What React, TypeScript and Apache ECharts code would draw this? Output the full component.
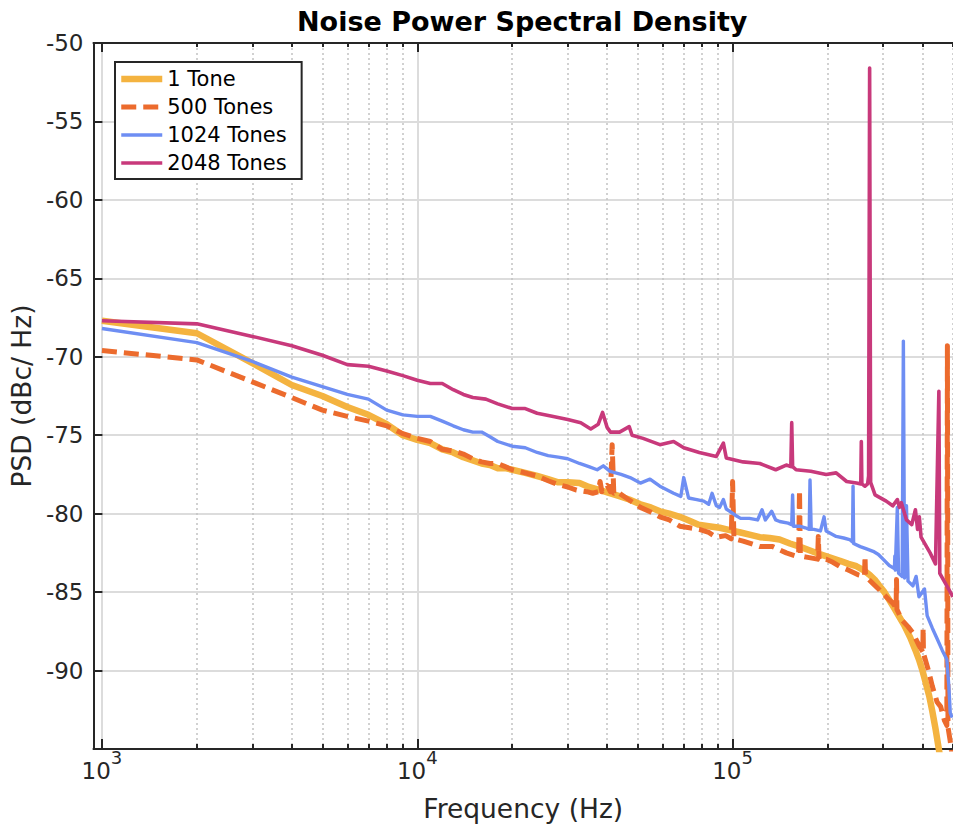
import React, { useEffect, useRef } from "react";
import * as echarts from "echarts";

// ---------- data ----------
const seriesNames = ["1 Tone", "500 Tones", "1024 Tones", "2048 Tones"];

const oneToneFreq = [1000, 2000, 3000, 4000, 5000, 6000, 7000, 8000, 9000, 10000, 11000, 12000, 13000, 14000, 15000, 16000, 17000, 18000, 19000, 20000, 22000, 24000, 26000, 28000, 30000, 32700, 35000, 38000, 41000, 44000, 47000, 51000, 55000, 58800, 63000, 68000, 73000, 78000, 84000, 91000, 98000, 106000, 114000, 122000, 131000, 141000, 152000, 163000, 176000, 190000, 204000, 219000, 233000, 247000, 260000, 272000, 282000, 292000, 303000, 314000, 325000, 336000, 350000, 366000, 380000, 390000, 400000, 410000, 420000, 430000, 440000, 450000, 455000];
const oneTonePsd = [-67.7, -68.5, -70.4, -71.8, -72.5, -73.2, -73.7, -74.3, -75.0, -75.3, -75.5, -75.9, -76.1, -76.4, -76.6, -76.8, -76.9, -77.1, -77.1, -77.2, -77.4, -77.6, -77.8, -78.0, -78.0, -78.05, -78.3, -78.5, -78.7, -78.9, -79.1, -79.4, -79.6, -79.85, -80.0, -80.2, -80.45, -80.7, -80.8, -80.9, -81.05, -81.2, -81.35, -81.5, -81.55, -81.65, -81.9, -82.1, -82.35, -82.6, -82.8, -83.0, -83.2, -83.35, -83.6, -83.9, -84.2, -84.6, -85.0, -85.5, -86.0, -86.5, -87.1, -87.9, -88.7, -89.3, -90.0, -90.8, -91.6, -92.6, -93.7, -94.9, -95.5];

const tones500Freq = [1000, 2000, 3000, 4000, 5000, 6000, 7000, 8000, 9000, 10000, 11000, 12000, 13000, 14000, 15000, 16000, 17000, 18000, 19000, 20000, 22000, 24000, 26000, 28000, 30000, 32000, 34500, 36000, 37500, 38000, 38500, 40000, 41000, 41500, 42000, 43000, 46000, 51000, 55000, 58800, 63000, 68000, 73000, 78400, 84000, 88800, 95000, 99000, 100000, 101000, 108000, 122000, 134000, 148000, 159000, 162000, 163000, 164000, 175000, 186000, 187000, 188000, 198000, 208000, 220000, 230000, 250000, 262000, 263000, 264000, 280000, 292000, 300000, 314000, 322000, 330000, 331000, 332000, 345000, 360000, 373000, 390000, 401000, 402000, 403000, 418000, 430000, 445000, 457000, 470000, 478000, 480000, 482000, 490000, 497000];
const tones500Psd = [-69.6, -70.2, -71.6, -72.6, -73.4, -73.8, -74.1, -74.4, -74.9, -75.2, -75.4, -75.9, -76.0, -76.2, -76.5, -76.7, -76.8, -76.8, -77.0, -77.2, -77.4, -77.6, -77.9, -78.15, -78.3, -78.5, -78.6, -78.7, -78.6, -77.95, -78.6, -78.2, -78.6, -75.6, -78.7, -78.6, -79.0, -79.6, -79.9, -80.2, -80.4, -80.8, -80.9, -81.0, -81.2, -81.5, -81.4, -81.6, -77.95, -81.6, -81.75, -82.1, -82.1, -82.5, -82.7, -82.6, -78.5, -82.7, -82.8, -82.9, -81.45, -82.9, -82.9, -83.1, -83.4, -83.55, -83.9, -84.0, -82.7, -84.0, -84.5, -84.85, -85.1, -85.5, -85.7, -86.0, -84.2, -86.1, -86.8, -87.2, -87.6, -88.4, -88.8, -87.3, -88.9, -90.0, -91.0, -92.0, -92.3, -93.2, -93.5, -69.3, -93.6, -94.5, -95.5];

const tones1024Freq = [1000, 2000, 3000, 4000, 5000, 6000, 7000, 8000, 9000, 10000, 11000, 12000, 13000, 14000, 15000, 16000, 17000, 18000, 20000, 22000, 24000, 26000, 28000, 30000, 32700, 35000, 37200, 38900, 40900, 44300, 47300, 51000, 54700, 58800, 65000, 68500, 70000, 72500, 77000, 81000, 84000, 86100, 88800, 91000, 93500, 95500, 98000, 102000, 106000, 113000, 120000, 124000, 127000, 133000, 137000, 141000, 150000, 154000, 155000, 156000, 163000, 170000, 175000, 176000, 177500, 181000, 190000, 195000, 198000, 213000, 225000, 235000, 240000, 241000, 242000, 254000, 266000, 279000, 290000, 300000, 314000, 326000, 327000, 328000, 333000, 336000, 345000, 348000, 351000, 356000, 360000, 373000, 382000, 390000, 406000, 414000, 430000, 446000, 462000, 478000, 485000, 490000, 497000];
const tones1024Psd = [-68.2, -69.1, -70.3, -71.3, -71.9, -72.4, -72.7, -73.4, -73.7, -73.8, -73.8, -74.1, -74.4, -74.65, -74.8, -74.8, -75.1, -75.4, -75.7, -75.8, -76.1, -76.3, -76.4, -76.5, -76.8, -77.0, -77.2, -76.95, -77.3, -77.5, -77.7, -78.05, -77.8, -78.25, -78.7, -78.9, -77.7, -79.0, -79.1, -79.2, -79.4, -78.7, -79.5, -79.6, -79.1, -79.7, -79.85, -80.1, -80.3, -80.3, -80.4, -79.75, -80.4, -79.85, -80.4, -80.5, -80.6, -80.7, -78.8, -80.8, -80.8, -80.9, -81.0, -77.85, -81.0, -81.0, -81.1, -80.2, -81.1, -81.45, -81.55, -81.65, -81.8, -78.25, -81.9, -82.1, -82.25, -82.4, -82.6, -82.9, -83.3, -83.5, -82.7, -83.6, -79.6, -83.8, -84.0, -69.0, -84.1, -79.5, -84.3, -84.6, -84.0, -85.3, -84.8, -86.5, -87.3, -88.0, -88.7, -89.3, -91.0, -92.7, -93.0];

const tones2048Freq = [1000, 2000, 3000, 4000, 5000, 6000, 7000, 8000, 9000, 10000, 11000, 12000, 13000, 14000, 15000, 16500, 18000, 20000, 22000, 24000, 27000, 30000, 33000, 35500, 37500, 38700, 40000, 41000, 43800, 47000, 48000, 52000, 58800, 65000, 70000, 78400, 88800, 93500, 95500, 108000, 122000, 137000, 148000, 153000, 154000, 155000, 159000, 177000, 198000, 213000, 230000, 247000, 255000, 256000, 257000, 263000, 268000, 270000, 272000, 274000, 283000, 307000, 322000, 333000, 338000, 343000, 356000, 370000, 380000, 386000, 391000, 396000, 423000, 440000, 451000, 454000, 478000, 500000];
const tones2048Psd = [-67.7, -67.9, -68.7, -69.3, -69.9, -70.5, -70.6, -70.9, -71.2, -71.5, -71.7, -71.7, -72.1, -72.4, -72.6, -72.7, -73.0, -73.3, -73.3, -73.6, -73.8, -74.0, -74.2, -74.6, -74.3, -73.55, -74.5, -74.8, -74.8, -74.45, -75.0, -75.2, -75.6, -75.4, -75.8, -76.1, -76.35, -75.5, -76.45, -76.7, -76.8, -77.2, -76.9, -77.0, -74.2, -77.0, -77.2, -77.3, -77.5, -77.4, -77.95, -78.05, -78.1, -75.4, -78.1, -78.25, -78.1, -77.6, -51.6, -78.0, -78.8, -79.2, -79.5, -79.1, -79.6, -79.3, -80.4, -80.7, -79.75, -81.0, -80.2, -81.5, -82.5, -83.2, -72.2, -83.8, -84.6, -85.3];

// axis ticks
const majorTickFreqs = [1000, 10000, 100000];
const minorTickFreqs = [2000, 3000, 4000, 5000, 6000, 7000, 8000, 9000, 20000, 30000, 40000, 50000, 60000, 70000, 80000, 90000, 200000, 300000, 400000, 500000];
const xMin = 940;
const xMax = 500000;
const yMin = -95;
const yMax = -50;
const yStep = 5;

const colors = ["#F4B340", "#EC6B2D", "#6E8EF3", "#C8397B"];
const widths = [6.5, 5, 3.4, 3.6];
const dashes: any[] = ["solid", [15, 7], "solid", "solid"];
const FONT = "DejaVu Sans";
const INK = "#262626";

function pairs(xs: number[], ys: number[]) {
  return xs.map((x, i) => [x, ys[i]]);
}

export default function App() {
  const ref = useRef<HTMLDivElement>(null);
  useEffect(() => {
    if (!ref.current) return;
    const chart = echarts.init(ref.current, undefined, { renderer: "svg" });
    const lmin = Math.log10(xMin);
    const lmax = Math.log10(xMax);
    const majorLog = majorTickFreqs.map((f) => Math.log10(f));
    const minorLog = minorTickFreqs.map((f) => Math.log10(f));
    const grid = { left: 93, right: 0, top: 43, bottom: 80, containLabel: false };
    const helperBase = {
      type: "value",
      min: lmin,
      max: lmax,
      gridIndex: 0,
      axisLabel: { show: false },
      splitLine: { show: false },
      axisLine: { show: false },
    };
    const dataSets = [
      pairs(oneToneFreq, oneTonePsd),
      pairs(tones500Freq, tones500Psd),
      pairs(tones1024Freq, tones1024Psd),
      pairs(tones2048Freq, tones2048Psd),
    ];
    const option: any = {
      animation: false,
      textStyle: { fontFamily: FONT },
      title: {
        text: "Noise Power Spectral Density",
        left: 297,
        top: 8,
        padding: 0,
        textStyle: { fontFamily: FONT, fontWeight: "bold", fontSize: 27, color: "#000" },
      },
      legend: {
        orient: "vertical",
        left: 115,
        top: 62,
        data: seriesNames.map((n, i) => ({
          name: n,
          lineStyle: { width: widths[i], type: dashes[i], color: colors[i] },
          itemStyle: { opacity: 0 },
        })),
        itemStyle: { opacity: 0 },
        padding: [6.5, 15, 5.5, 3],
        itemWidth: 41,
        itemHeight: 14,
        itemGap: 7,
        borderColor: INK,
        borderWidth: 2,
        borderRadius: 0,
        backgroundColor: "#fff",
        textStyle: { fontFamily: FONT, fontSize: 21, color: "#000" },
      },
      grid,
      xAxis: [
        {
          type: "log",
          logBase: 10,
          min: xMin,
          max: xMax,
          gridIndex: 0,
          show: false,
        },
        {
          ...helperBase,
          position: "bottom",
          axisLine: { show: true, onZero: false, lineStyle: { color: INK, width: 2 } },
          axisTick: { show: true, inside: true, length: 10, customValues: majorLog, lineStyle: { color: INK, width: 2 } },
          splitLine: { show: true, lineStyle: { color: "#dcdcdc", width: 2 } },
          axisLabel: {
            show: true,
            customValues: majorLog,
            margin: -1,
            formatter: (v: number) => `{b|10}{s|${Math.round(v)}}`,
            rich: {
              b: { fontFamily: FONT, fontSize: 23, color: INK, lineHeight: 34, verticalAlign: "bottom" },
              s: { fontFamily: FONT, fontSize: 18, color: INK, lineHeight: 20, verticalAlign: "top" },
            },
          },
          name: "Frequency (Hz)",
          nameLocation: "middle",
          nameGap: 46,
          nameTextStyle: { fontFamily: FONT, fontSize: 26.5, color: INK },
        },
        {
          ...helperBase,
          position: "bottom",
          axisTick: { show: true, inside: true, length: 5, customValues: minorLog, lineStyle: { color: INK, width: 2 } },
          splitLine: { show: true, lineStyle: { color: "#c2c2c2", width: 1.5, type: [2, 3] } },
        },
        {
          ...helperBase,
          position: "top",
          axisLine: { show: true, onZero: false, lineStyle: { color: INK, width: 2 } },
          axisTick: { show: true, inside: true, length: 9, customValues: majorLog, lineStyle: { color: INK, width: 2 } },
        },
        {
          ...helperBase,
          position: "top",
          axisTick: { show: true, inside: true, length: 4, customValues: minorLog, lineStyle: { color: INK, width: 2 } },
        },
      ],
      yAxis: [
        {
          type: "value",
          min: yMin,
          max: yMax,
          interval: yStep,
          gridIndex: 0,
          axisLine: { show: true, onZero: false, lineStyle: { color: INK, width: 2 } },
          axisTick: { show: true, inside: true, length: 9, lineStyle: { color: INK, width: 2 } },
          splitLine: { show: true, lineStyle: { color: "#dcdcdc", width: 2 } },
          axisLabel: {
            margin: 10,
            fontFamily: FONT,
            fontSize: 23,
            color: INK,
            formatter: (v: number) => (v === yMin ? "" : String(v)),
          },
          name: "PSD (dBc/ Hz)",
          nameLocation: "middle",
          nameGap: 58,
          nameTextStyle: { fontFamily: FONT, fontSize: 26.5, color: INK },
        },
      ],
      series: seriesNames.map((name, i) => ({
        type: "line",
        name,
        xAxisIndex: 0,
        yAxisIndex: 0,
        data: dataSets[i],
        symbol: "none",
        color: colors[i],
        itemStyle: { color: colors[i] },
        lineStyle: { color: colors[i], width: widths[i], type: dashes[i], join: "round" },
      })),
    };
    chart.setOption(option);
    return () => chart.dispose();
  }, []);
  return (
    <div
      ref={ref}
      style={{ position: "absolute", left: 0, top: 0, width: 953, height: 829, background: "#fff" }}
    />
  );
}
